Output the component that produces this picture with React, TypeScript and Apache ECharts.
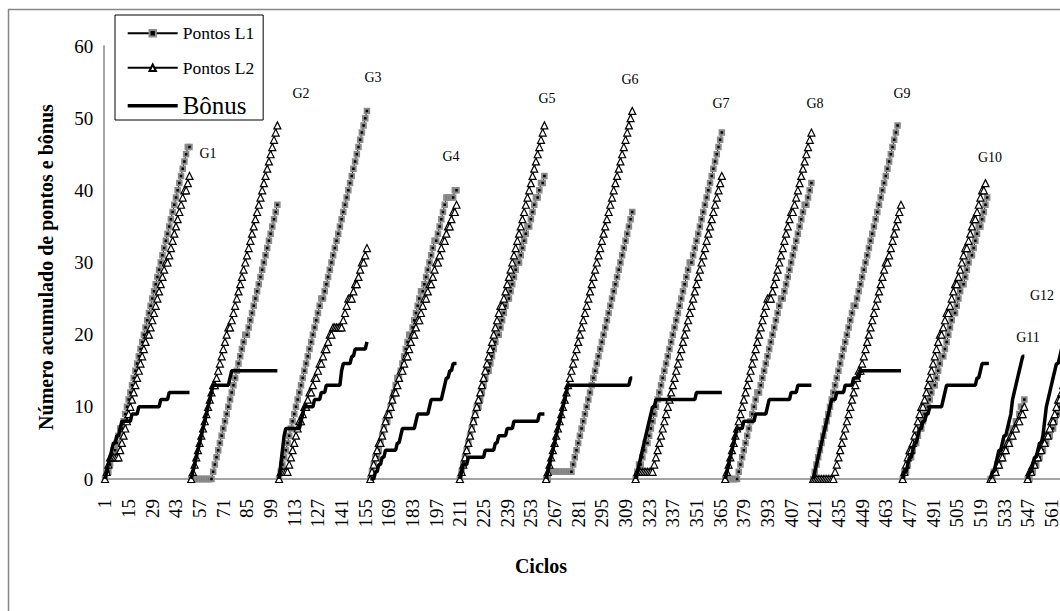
import React, { useEffect, useRef } from "react";
import * as echarts from "echarts";

// Cycle numbers on the category axis (the plot runs past the right edge).
const cycleCount = 580;
const cycles: string[] = Array.from({ length: cycleCount }, (_, i) => String(i + 1));

const yTicks = { min: 0, max: 60, step: 10 };

// Game names and the cycle where each game begins.
const gameNames = ["G1", "G2", "G3", "G4", "G5", "G6", "G7", "G8", "G9", "G10", "G11", "G12"];
const gameStart = [1, 52, 104, 158, 211, 262, 315, 368, 420, 473, 525, 547];

// Accumulated points of L1, one list per game (one value per cycle).
const pontosL1: number[][] = [
  [0,1,1,2,3,4,4,5,6,7,7,8,9,10,11,12,13,14,15,16,17,18,19,20,21,22,23,24,25,26,27,28,29,30,31,32,33,34,35,36,37,38,39,40,41,42,43,44,45,46,46],
  [0,0,0,0,0,0,0,0,0,0,0,0,0,1,2,3,4,5,6,7,8,9,10,11,12,13,14,15,16,17,18,19,20,20,21,22,23,24,25,26,27,28,29,30,31,32,33,34,35,36,37,38],
  [0,1,2,3,4,5,6,7,8,9,10,11,12,13,14,15,16,17,18,19,20,21,22,23,24,25,25,26,27,28,29,30,31,32,33,34,35,36,37,38,39,40,41,42,43,44,45,46,47,48,49,50,51],
  [0,1,2,3,3,4,5,6,7,8,8,9,10,11,12,13,14,14,15,16,17,18,19,20,20,21,22,23,24,25,26,26,27,28,29,30,31,32,33,33,34,35,36,37,38,39,39,39,39,39,40,40],
  [0,1,2,3,4,5,6,7,8,9,10,10,11,12,13,14,15,15,16,17,18,19,20,20,21,22,23,24,25,25,26,27,28,29,30,30,31,32,33,34,35,35,36,37,38,39,39,40,41,41,42],
  [0,0,1,1,1,1,1,1,1,1,1,1,1,1,1,1,2,3,4,5,6,7,8,9,10,11,12,13,14,15,16,17,18,19,20,21,22,23,24,25,26,27,28,29,30,31,32,33,34,35,36,37],
  [0,1,2,2,3,4,5,5,6,7,8,9,10,11,12,13,14,15,16,17,18,19,20,21,22,23,24,25,26,27,28,29,30,30,31,32,33,34,35,36,37,38,39,40,41,42,43,44,45,46,47,48],
  [0,0,0,0,0,0,0,0,1,2,3,4,5,6,7,8,9,10,11,12,12,13,14,15,16,17,18,19,20,21,22,23,24,25,25,26,27,28,29,30,31,32,33,34,35,36,37,38,38,39,40,41],
  [0,1,2,3,4,5,6,7,8,9,10,11,12,13,14,15,16,17,18,19,20,21,22,23,24,24,25,26,27,28,29,30,31,32,33,34,35,36,37,38,39,40,41,42,43,44,45,46,47,48,49],
  [0,1,1,2,3,3,4,5,5,6,7,7,8,9,10,10,11,12,13,13,14,15,16,17,17,18,19,20,21,22,23,23,24,25,26,27,27,28,29,30,31,31,32,33,34,35,35,36,37,38,39],
  [0,0,1,1,2,2,3,3,4,4,5,5,6,7,7,8,8,9,10,10,11],
  [0,0,1,1,2,2,3,3,4,4,5,5,6,6,7,7,8,9,9,10,11,12],
];

// Accumulated points of L2, one list per game.
const pontosL2: number[][] = [
  [0,1,2,3,3,3,3,3,3,4,5,6,7,8,9,10,11,12,13,14,15,16,17,18,19,20,20,21,22,23,24,25,26,27,28,29,30,30,31,32,33,34,35,36,37,38,39,40,40,41,42],
  [0,1,2,3,4,5,6,7,8,9,10,11,12,13,13,14,15,16,17,18,19,20,21,21,22,23,24,25,26,27,28,29,30,31,32,33,34,35,36,37,38,39,40,41,42,43,44,45,46,47,48,49],
  [0,1,1,1,1,1,2,3,4,5,6,7,8,8,9,10,10,11,12,12,13,14,14,15,16,16,17,18,18,19,20,20,21,21,21,21,21,21,22,23,24,25,25,25,26,27,27,28,29,30,30,31,32],
  [0,1,2,3,4,5,5,6,7,8,9,9,10,11,12,12,13,14,15,15,16,17,17,18,19,20,20,21,22,22,23,24,25,25,26,27,27,28,29,30,30,31,32,33,33,34,35,35,36,37,37,38],
  [0,1,2,3,4,5,6,7,8,9,10,11,12,13,14,15,16,17,18,19,20,21,22,23,24,24,25,26,27,28,29,30,31,32,33,34,35,36,37,38,39,40,41,42,43,44,45,46,47,48,49],
  [0,1,2,3,4,5,6,7,8,9,10,11,12,13,14,15,16,17,18,19,20,21,22,23,24,25,26,27,28,29,30,31,32,33,34,35,36,37,38,39,40,41,42,43,44,45,46,47,48,49,50,51],
  [0,1,1,1,1,1,1,1,1,1,1,2,3,4,5,6,7,8,9,10,11,12,13,14,15,16,17,18,19,20,21,22,23,24,25,26,27,28,29,30,31,32,33,34,35,36,37,38,39,40,41,42],
  [0,1,2,3,4,5,6,7,8,9,10,11,12,13,14,15,16,17,18,19,20,21,22,23,24,25,25,25,26,27,28,29,30,31,32,33,34,35,36,37,37,38,39,40,41,42,43,44,45,46,47,48],
  [0,0,0,0,0,0,0,0,0,0,0,0,0,1,2,3,4,5,6,7,8,9,10,11,12,13,14,15,15,16,17,18,19,20,21,22,23,24,25,26,27,28,29,30,30,31,32,33,34,35,36,37,38],
  [0,1,2,3,4,4,5,6,7,8,9,10,10,11,12,13,14,15,16,17,18,19,20,20,21,22,23,23,24,25,26,27,27,28,29,30,31,32,32,33,34,35,36,36,37,38,39,40,40,41],
  [0,0,1,1,2,2,3,3,4,4,5,5,6,6,7,7,8,8,9,9,10],
  [0,1,1,2,2,3,3,4,4,5,5,6,6,7,8,8,9,10,11,11,12,13],
];

// Accumulated bonus, one list per game.
const bonus: number[][] = [
  [0,1,2,3,4,5,5,6,6,7,8,8,8,8,8,8,9,9,9,9,10,10,10,10,10,10,10,10,10,10,10,10,10,11,11,11,11,11,12,12,12,12,12,12,12,12,12,12,12,12,12],
  [0,1,2,3,4,5,6,7,8,9,10,11,12,13,13,13,13,13,13,13,13,13,13,14,15,15,15,15,15,15,15,15,15,15,15,15,15,15,15,15,15,15,15,15,15,15,15,15,15,15,15,15],
  [0,2,4,6,7,7,7,7,7,7,7,7,7,8,9,10,10,10,10,10,10,11,11,11,11,12,12,12,13,13,13,13,13,13,13,13,13,15,16,16,16,16,16,17,17,18,18,18,18,18,18,18,19],
  [0,0,0,1,1,2,2,3,3,4,4,4,4,4,4,4,5,5,6,7,7,7,7,7,7,7,7,8,9,9,9,9,9,9,9,10,11,11,11,11,11,11,11,12,13,14,14,15,15,16,16,16],
  [0,1,2,2,2,3,3,3,3,3,3,3,3,3,3,4,4,4,4,4,4,5,5,6,6,6,6,6,7,7,7,7,8,8,8,8,8,8,8,8,8,8,8,8,8,8,8,9,9,9,9],
  [0,1,2,3,4,5,6,7,8,9,10,11,12,13,13,13,13,13,13,13,13,13,13,13,13,13,13,13,13,13,13,13,13,13,13,13,13,13,13,13,13,13,13,13,13,13,13,13,13,13,14,14],
  [0,1,2,3,4,5,6,7,8,9,10,10,11,11,11,11,11,11,11,11,11,11,11,11,11,11,11,11,11,11,11,11,11,11,11,11,12,12,12,12,12,12,12,12,12,12,12,12,12,12,12,12],
  [0,1,2,3,4,5,6,7,7,7,7,8,8,8,8,8,8,8,9,9,9,9,9,9,9,10,11,11,11,11,11,11,11,11,11,11,11,11,11,12,12,12,12,13,13,13,13,13,13,13,13,13],
  [0,1,2,3,4,5,6,7,8,9,10,11,11,11,12,12,12,12,12,13,13,13,13,13,14,14,14,14,15,15,15,15,15,15,15,15,15,15,15,15,15,15,15,15,15,15,15,15,15,15,15,15,15],
  [0,1,1,2,3,3,4,5,5,6,7,7,8,8,9,9,10,10,10,10,10,10,10,10,11,12,13,13,13,13,13,13,13,13,13,13,13,13,13,13,13,13,13,13,14,14,15,16,16,16,16,16],
  [0,1,1,2,3,4,4,5,6,6,7,8,9,11,12,13,14,15,16,17,17],
  [0,1,1,2,3,3,4,5,5,6,8,10,11,12,13,14,15,16,16,17,18,19],
];

const FONT = "Liberation Serif";
const AXIS_GRAY = "#868686";

// Where each game's name is written above its curves (pixels).
const gameLabelAt: [number, number][] = [
  [208, 153], [301, 93], [373, 77], [451, 156], [547, 98], [630, 79],
  [721, 103], [815, 103], [902, 93], [990, 157], [1028, 337], [1042, 295],
];

const toSeriesData = (vals: number[], g: number) =>
  vals.map((v, i) => [gameStart[g] - 1 + i, v]);

function buildOption(): echarts.EChartsOption {
  const series: any[] = [];
  pontosL1.forEach((vals, g) =>
    series.push({
      name: "Pontos L1",
      type: "line",
      data: toSeriesData(vals, g),
      symbol: "rect",
      symbolSize: 4.5,
      showSymbol: true,
      showAllSymbol: true,
      lineStyle: { color: "#000", width: 1 },
      itemStyle: { color: "#000", borderColor: "#8a8a8a", borderWidth: 2 },
      emphasis: { disabled: true },
      silent: true,
      z: 2,
    })
  );
  pontosL2.forEach((vals, g) =>
    series.push({
      name: "Pontos L2",
      type: "line",
      data: toSeriesData(vals, g),
      symbol: "triangle",
      symbolSize: 7,
      showSymbol: true,
      showAllSymbol: true,
      lineStyle: { color: "#000", width: 1 },
      itemStyle: { color: "#fff", borderColor: "#000", borderWidth: 1.2 },
      emphasis: { disabled: true },
      silent: true,
      z: 3,
    })
  );
  bonus.forEach((vals, g) =>
    series.push({
      name: "Bônus",
      type: "line",
      data: toSeriesData(vals, g),
      symbol: "none",
      showSymbol: false,
      lineStyle: { color: "#000", width: 3.5 },
      itemStyle: { color: "#000" },
      emphasis: { disabled: true },
      silent: true,
      z: 4,
    })
  );

  const textStyle = (size: number, weight: string = "normal") => ({
    fontFamily: FONT,
    fontSize: size,
    fontWeight: weight,
    fill: "#000",
    align: "center",
    verticalAlign: "middle",
  });

  const graphics: any[] = [
    {
      type: "rect",
      silent: true,
      z: -10,
      shape: { x: 8.5, y: 9.5, width: 2000, height: 2000 },
      style: { fill: "none", stroke: AXIS_GRAY, lineWidth: 1.5 },
    },
    {
      type: "text",
      silent: true,
      x: 46,
      y: 267,
      rotation: Math.PI / 2,
      style: { text: "Número acumulado de pontos e bônus", ...textStyle(20, "bold") },
    },
    {
      type: "text",
      silent: true,
      x: 541,
      y: 566,
      style: { text: "Ciclos", ...textStyle(20, "bold") },
    },
  ];
  gameNames.forEach((name, g) =>
    graphics.push({
      type: "text",
      silent: true,
      x: gameLabelAt[g][0],
      y: gameLabelAt[g][1],
      style: { text: name, ...textStyle(14) },
    })
  );

  return {
    animation: false,
    backgroundColor: "#fff",
    grid: { left: 104.15, top: 46, width: cycleCount * 1.69, height: 433, containLabel: false },
    xAxis: {
      type: "category",
      data: cycles,
      boundaryGap: true,
      axisLine: { show: true, lineStyle: { color: AXIS_GRAY, width: 1.5 } },
      axisTick: { show: false },
      splitLine: { show: false },
      axisLabel: {
        interval: 13,
        rotate: 90,
        margin: 20,
        color: "#000",
        fontFamily: FONT,
        fontSize: 19,
      },
    },
    yAxis: {
      type: "value",
      min: yTicks.min,
      max: yTicks.max,
      interval: yTicks.step,
      axisLine: { show: true, lineStyle: { color: AXIS_GRAY, width: 1.5 } },
      axisTick: { show: false },
      splitLine: { show: false },
      axisLabel: { margin: 11, color: "#000", fontFamily: FONT, fontSize: 19 },
    },
    legend: {
      orient: "vertical",
      left: 115,
      top: 15,
      padding: [9.25, 9, 1.75, 11.7],
      itemGap: 16.5,
      itemWidth: 50,
      itemHeight: 8,
      selectedMode: false,
      backgroundColor: "#fff",
      borderColor: "#000",
      borderWidth: 1,
      textStyle: { fontFamily: FONT, fontSize: 17.5, color: "#000" },
      data: [
        { name: "Pontos L1", textStyle: { fontFamily: FONT, fontSize: 17.5, color: "#000" } },
        { name: "Pontos L2", textStyle: { fontFamily: FONT, fontSize: 17.5, color: "#000" } },
        {
          name: "Bônus",
          icon: "path://M0,0h0.01v0.01h-0.01z M0,2.25h50v3.5h-50z M0,7.99h0.01v0.01h-0.01z",
          textStyle: { fontFamily: FONT, fontSize: 25, color: "#000" },
        },
      ],
    },
    graphic: graphics,
    series,
  };
}

export default function App() {
  const ref = useRef<HTMLDivElement>(null);
  useEffect(() => {
    if (!ref.current) return;
    const chart = echarts.init(ref.current, null, { renderer: "svg" });
    chart.setOption(buildOption());
    return () => chart.dispose();
  }, []);
  // The chart surface is wider than the visible frame, so the last game is cut at the edge.
  return (
    <div
      style={{ position: "fixed", left: 0, top: 0, width: 1060, height: 611, overflow: "hidden", background: "#fff" }}
    >
      <div ref={ref} style={{ width: 1110, height: 611 }} />
    </div>
  );
}
